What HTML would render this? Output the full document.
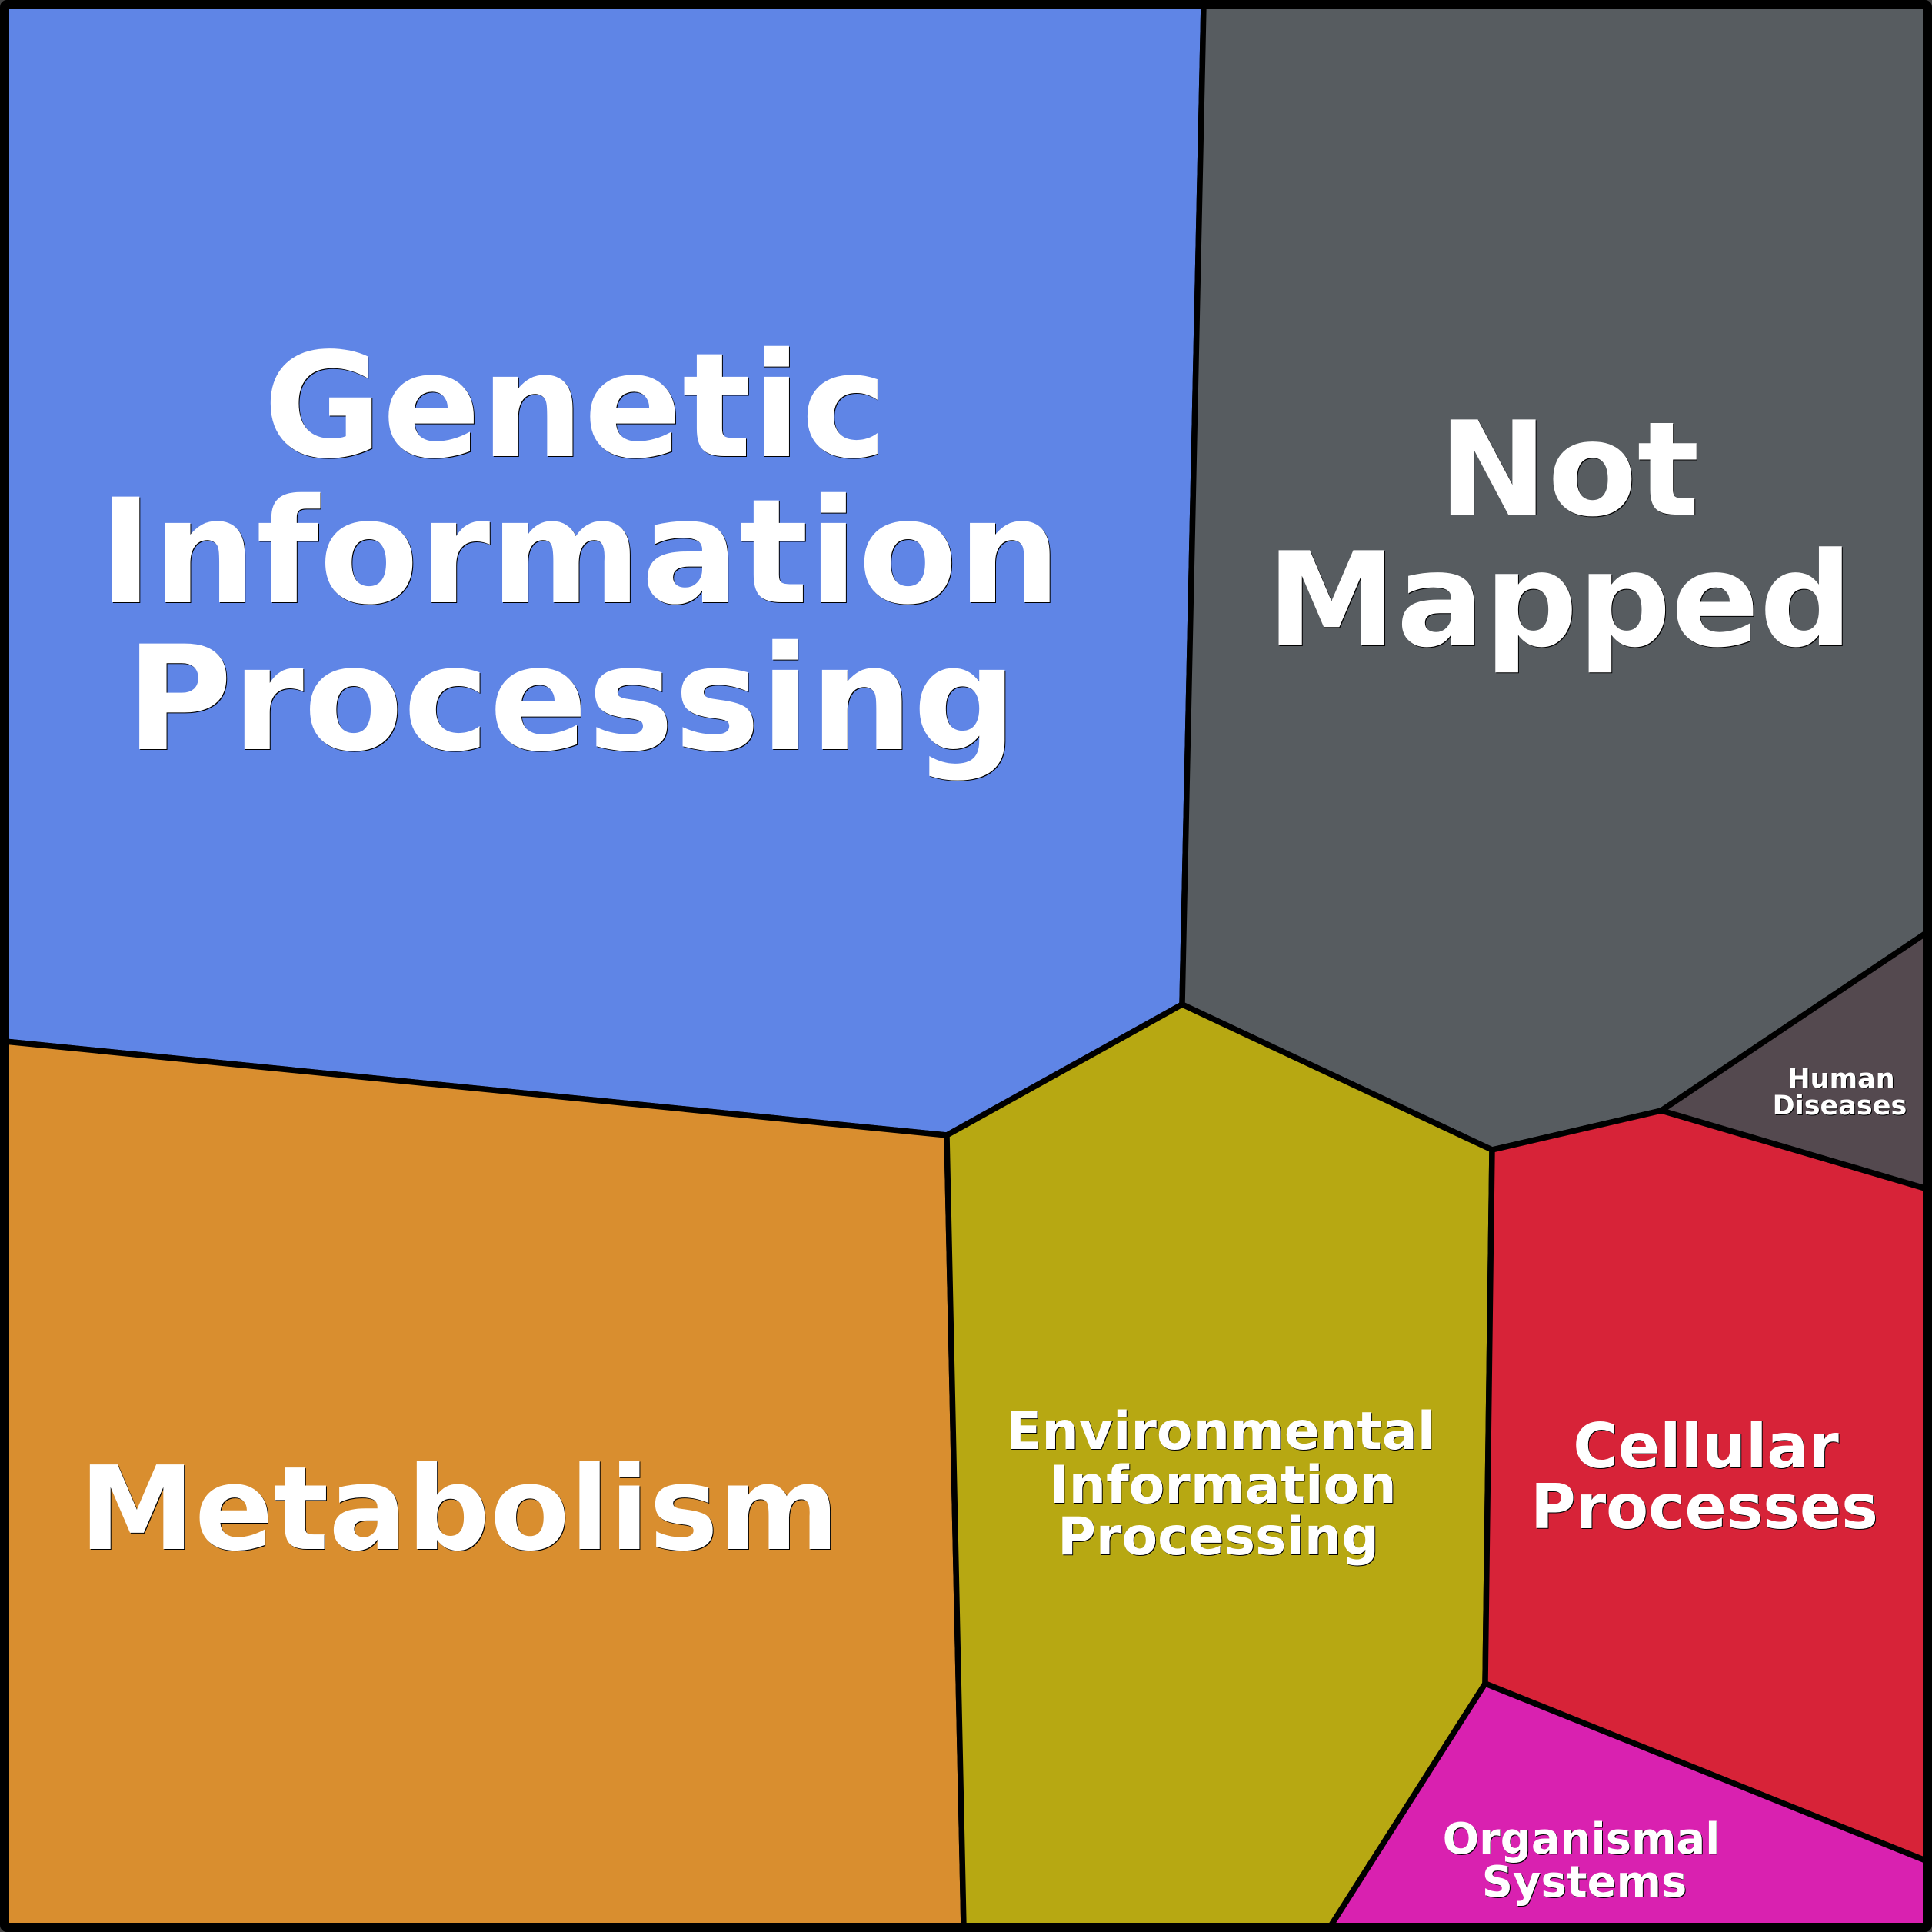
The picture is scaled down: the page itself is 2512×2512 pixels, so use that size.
<!DOCTYPE html>
<html><head><meta charset="utf-8"><style>
html,body{margin:0;padding:0;background:#444;width:2512px;height:2512px;overflow:hidden}
svg{display:block}
text{font-family:"DejaVu Sans",sans-serif;font-weight:bold;text-anchor:middle}
.s{fill:#000}.w{fill:#fff}
</style></head><body>
<svg xmlns="http://www.w3.org/2000/svg" width="2512" height="2512" viewBox="0 0 2512 2512">
<rect width="2512" height="2512" fill="#444"/>
<g stroke="#000" stroke-width="7.5" stroke-linejoin="round">
<polygon fill="#5f85e6" points="6,6 1565,6 1537,1306 1231,1476 6,1354"/>
<polygon fill="#575c60" points="1565,6 2506,6 2506,1212 2160,1444 1940,1495 1537,1306"/>
<polygon fill="#54494f" points="2506,1212 2506,1546 2160,1444"/>
<polygon fill="#d98e2f" points="6,1354 1231,1476 1253,2506 6,2506"/>
<polygon fill="#b7a812" points="1231,1476 1537,1306 1940,1495 1931,2189 1729,2506 1253,2506"/>
<polygon fill="#d72338" points="1940,1495 2160,1444 2506,1546 2506,2420 1931,2189"/>
<polygon fill="#d921b0" points="1931,2189 2506,2420 2506,2506 1729,2506"/>
</g>
<rect x="6" y="6" width="2500" height="2500" rx="3" fill="none" stroke="#000" stroke-width="12"/>

<g font-size="188.5">
<text class="s" x="749" y="594">Genetic</text><text class="w" x="748" y="593">Genetic</text>
<text class="s" x="755" y="784">Information</text><text class="w" x="754" y="783">Information</text>
<text class="s" x="744" y="975">Processing</text><text class="w" x="743" y="974">Processing</text>
</g>
<g font-size="169.5">
<text class="s" x="2041" y="670">Not</text><text class="w" x="2040" y="669">Not</text>
<text class="s" x="2029" y="840">Mapped</text><text class="w" x="2028" y="839">Mapped</text>
</g>
<text class="s" font-size="150.8" x="598" y="2015">Metabolism</text><text class="w" font-size="150.8" x="597" y="2014">Metabolism</text>
<g font-size="68">
<text class="s" x="1588" y="1885">Environmental</text><text class="w" x="1587" y="1884">Environmental</text>
<text class="s" x="1591" y="1955">Information</text><text class="w" x="1590" y="1954">Information</text>
<text class="s" x="1585" y="2022">Processing</text><text class="w" x="1584" y="2021">Processing</text>
</g>
<g font-size="80">
<text class="s" x="2219" y="1909">Cellular</text><text class="w" x="2218" y="1908">Cellular</text>
<text class="s" x="2217" y="1988">Processes</text><text class="w" x="2216" y="1987">Processes</text>
</g>
<g font-size="56">
<text class="s" x="2057" y="2411">Organismal</text><text class="w" x="2056" y="2410">Organismal</text>
<text class="s" x="2061" y="2467">Systems</text><text class="w" x="2060" y="2466">Systems</text>
</g>
<g font-size="35">
<text class="s" x="2395" y="1415">Human</text><text class="w" x="2394" y="1414">Human</text>
<text class="s" x="2393" y="1450">Diseases</text><text class="w" x="2392" y="1449">Diseases</text>
</g>
</svg>
</body></html>
